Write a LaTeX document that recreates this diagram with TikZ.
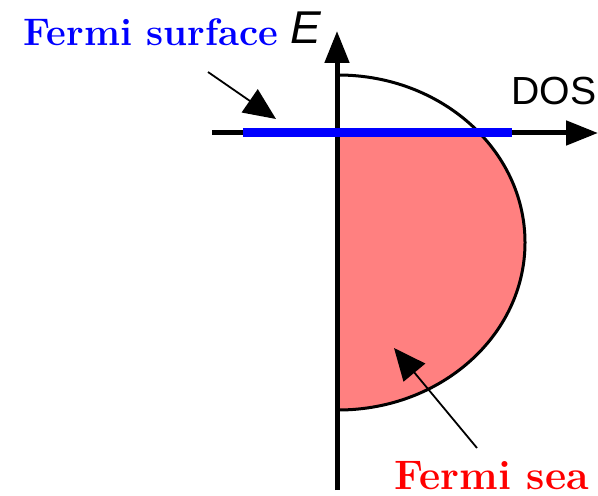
\documentclass[tikz,border=0pt]{standalone}
\usepackage{fontspec}
\newfontfamily\arialfont{Liberation Sans}
\usetikzlibrary{arrows.meta}
\definecolor{seared}{HTML}{FF8080}
\begin{document}
\begin{tikzpicture}[x=0.5pt,y=-0.5pt,
  axis/.style={line width=2.5pt,-{Triangle[length=16pt,width=12pt]}},
  pointer/.style={line width=0.9pt,-{Triangle[length=16pt,width=14pt]}},
  lbl/.style={inner sep=0pt,anchor=base west}]
\useasboundingbox (0,0) rectangle (598,496);
\coordinate (c) at (338,242.5);
% fill (Fermi sea)
\begin{scope}
  \clip (338,135) rectangle (598,496);
  \fill[seared] (c) ellipse [x radius=93.5pt, y radius=83.75pt];
\end{scope}
% DOS outline
\begin{scope}
  \clip (338,0) rectangle (598,496);
  \draw[line width=1.5pt] (c) ellipse [x radius=93.5pt, y radius=83.75pt];
\end{scope}
% axes
\coordinate (vb) at (337,490);
\coordinate (vt) at (337,31);
\coordinate (hl) at (212,133);
\coordinate (hr) at (598,133);
\draw[axis] (vb) -- (vt);
\draw[axis] (hl) -- (hr);
% Fermi level
\coordinate (fl) at (243,133);
\coordinate (fr) at (512,133);
\draw[blue,line width=4.5pt] (fl) -- (fr);
% labels
\node[lbl] (E) at (290,44) {\fontsize{23}{26}\arialfont\itshape E};
\node[lbl] (dos) at (511,105) {\fontsize{19.6}{23}\arialfont DOS};
\node[lbl,text=blue] (fs) at (23,46) {\fontsize{19.2}{22}\selectfont\bfseries Fermi surface};
\node[lbl,text=red] (sea) at (394,489) {\fontsize{20.6}{24}\selectfont\bfseries Fermi sea};
% pointers
\coordinate (p1s) at (208,72);
\coordinate (p1e) at (276,119);
\coordinate (p2s) at (477,448);
\coordinate (p2e) at (394,348);
\draw[pointer] (p1s) -- (p1e);
\draw[pointer] (p2s) -- (p2e);
\end{tikzpicture}
\end{document}
